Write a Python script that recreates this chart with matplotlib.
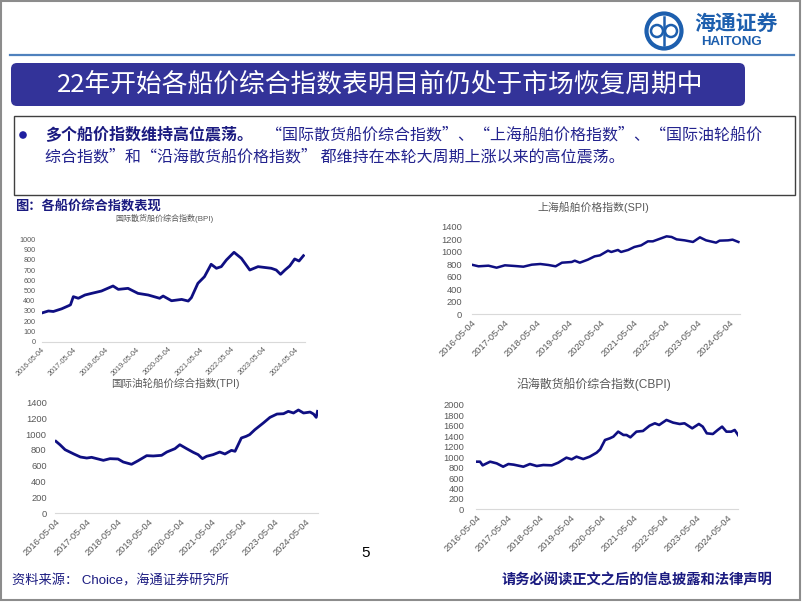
import numpy as np
import pandas as pd
import matplotlib.pyplot as plt
from matplotlib.patches import FancyBboxPatch, Rectangle, Circle

plt.rcParams['font.family'] = ['Liberation Sans', 'Noto Sans CJK SC']

# ---- data ----
tick_labels = ['2016-05-04', '2017-05-04', '2018-05-04', '2019-05-04', '2020-05-04',
               '2021-05-04', '2022-05-04', '2023-05-04', '2024-05-04']

bpi_dates = ['2016-05-04', '2016-07-20', '2016-09-15', '2016-12-20', '2017-03-10', '2017-04-01',
             '2017-05-04', '2017-07-01', '2017-09-15', '2017-12-01', '2018-03-25', '2018-08-05',
             '2018-10-05', '2019-01-25', '2019-05-20', '2019-09-15', '2020-01-25', '2020-03-05',
             '2020-06-10', '2020-10-05', '2020-12-20', '2021-01-25', '2021-04-10', '2021-06-25',
             '2021-09-10', '2021-11-10', '2022-01-05', '2022-03-05', '2022-06-01', '2022-08-25',
             '2022-11-30', '2023-03-05', '2023-08-05', '2023-10-01', '2023-11-20', '2024-01-10',
             '2024-03-05', '2024-05-01', '2024-06-20', '2024-08-10']
bpi_values = [280, 300, 295, 321, 351, 360, 440, 424, 456, 472, 495, 544, 511, 521, 472, 456,
              424, 446, 400, 413, 397, 430, 570, 635, 756, 717, 733, 798, 873, 814, 700, 733,
              717, 700, 658, 700, 740, 808, 788, 840]

spi_dates = ['2016-05-04', '2016-07-20', '2016-11-10', '2017-02-10', '2017-05-15', '2017-09-05',
             '2017-12-10', '2018-03-15', '2018-06-20', '2018-09-20', '2018-12-10', '2019-02-20',
             '2019-06-10', '2019-07-15', '2019-09-10', '2019-12-10', '2020-02-25', '2020-04-25',
             '2020-07-25', '2020-09-01', '2020-11-15', '2020-12-20', '2021-03-10', '2021-05-20',
             '2021-08-05', '2021-10-20', '2021-12-15', '2022-02-15', '2022-05-20', '2022-07-15',
             '2022-09-10', '2022-12-10', '2023-03-15', '2023-06-01', '2023-08-10', '2023-12-01',
             '2024-01-10', '2024-04-15', '2024-06-05', '2024-08-10']
spi_values = [793, 767, 777, 745, 783, 772, 761, 793, 804, 788, 767, 825, 836, 857, 825, 873,
              926, 942, 1017, 996, 1028, 996, 1028, 1076, 1102, 1166, 1166, 1198, 1246, 1236,
              1198, 1182, 1156, 1230, 1182, 1145, 1177, 1182, 1193, 1156]

tpi_dates = ['2016-05-15', '2016-07-01', '2016-08-30', '2016-12-10', '2017-02-25', '2017-05-10',
             '2017-07-05', '2017-09-05', '2017-11-20', '2018-02-05', '2018-05-10', '2018-07-10',
             '2018-10-15', '2019-01-01', '2019-04-10', '2019-06-25', '2019-10-01', '2019-12-01',
             '2020-03-05', '2020-05-01', '2020-07-20', '2020-10-05', '2020-12-01', '2021-01-20',
             '2021-03-10', '2021-05-25', '2021-08-10', '2021-10-10', '2021-12-25', '2022-02-05',
             '2022-04-20', '2022-06-15', '2022-07-25', '2022-09-25', '2023-01-01', '2023-03-20',
             '2023-06-10', '2023-08-25', '2023-10-20', '2023-12-20', '2024-02-15', '2024-04-15',
             '2024-07-01', '2024-08-10', '2024-09-10', '2024-09-25']
tpi_values = [908, 865, 802, 748, 710, 697, 706, 689, 668, 689, 685, 647, 618, 664, 727, 723,
              731, 773, 815, 865, 815, 769, 740, 689, 719, 740, 773, 748, 794, 782, 950, 971,
              992, 1055, 1139, 1210, 1252, 1256, 1286, 1265, 1303, 1265, 1277, 1252, 1210, 1286]

cbpi_dates = ['2016-05-04', '2016-06-20', '2016-07-20', '2016-10-15', '2016-12-30', '2017-03-15',
              '2017-05-15', '2017-07-15', '2017-11-05', '2018-01-20', '2018-04-10', '2018-06-25',
              '2018-10-01', '2018-12-15', '2019-03-20', '2019-05-20', '2019-07-15', '2019-10-01',
              '2019-12-15', '2020-03-05', '2020-04-15', '2020-06-10', '2020-08-05', '2020-09-15',
              '2020-11-10', '2021-01-10', '2021-02-15', '2021-04-01', '2021-06-10', '2021-08-25',
              '2021-11-10', '2022-01-10', '2022-03-01', '2022-05-25', '2022-08-10', '2022-10-25',
              '2022-12-20', '2023-03-20', '2023-06-05', '2023-07-20', '2023-09-05', '2023-11-15',
              '2024-01-10', '2024-03-01', '2024-04-20', '2024-06-15', '2024-07-25', '2024-09-10']
cbpi_values = [913, 913, 843, 913, 881, 817, 868, 856, 817, 868, 830, 849, 843, 894, 990, 958,
               1009, 964, 1009, 1086, 1150, 1329, 1361, 1393, 1489, 1425, 1425, 1380, 1489, 1502,
               1604, 1649, 1617, 1713, 1662, 1636, 1649, 1553, 1636, 1585, 1457, 1444, 1521, 1585,
               1489, 1489, 1521, 1406]

W, H = 802, 602
NAVY = '#1a1a80'
GRAY = '#595959'

fig = plt.figure(figsize=(W / 100, H / 100), dpi=100)

# page-level drawing layer in pixel coordinates
bg = fig.add_axes([0, 0, 1, 1], zorder=0)
bg.set_xlim(0, W)
bg.set_ylim(H, 0)
bg.axis('off')

bg.add_patch(Rectangle((1, 1), W - 3, H - 3, fill=False, ec='#8c8c8c', lw=1.5))
bg.plot([10, 794], [55, 55], color='#4f81bd', lw=1.6)

# logo
bg.add_patch(Circle((664, 31), 17.5, fill=False, ec='#1d5fae', lw=3))
bg.add_patch(Circle((657, 31), 6, fill=False, ec='#1d5fae', lw=1.8))
bg.add_patch(Circle((671, 31), 6, fill=False, ec='#1d5fae', lw=1.8))
bg.plot([664, 664], [17, 45], color='#1d5fae', lw=1.8)
bg.text(736, 23, '海通证券', fontsize=15, color='#1d5fae', fontweight='bold',
        ha='center', va='center', family=['Noto Sans CJK SC'])
bg.text(732, 42, 'HAITONG', fontsize=9.5, color='#1d5fae', fontweight='bold',
        ha='center', va='center')

# title banner
bg.add_patch(FancyBboxPatch((11, 63), 734, 43, boxstyle='round,pad=0,rounding_size=6',
                            fc='#333399', ec='none'))
bg.text(380, 85, '22年开始各船价综合指数表明目前仍处于市场恢复周期中', color='white',
        fontsize=18.5, ha='center', va='center', family=['Noto Sans CJK SC'])

# bullet box
bg.add_patch(Rectangle((14, 116), 781, 79, fill=False, ec='#404040', lw=1))
bg.add_patch(Circle((23, 135), 3.8, fc='#1f1fa0', ec='none'))
bg.text(45, 135, '多个船价指数维持高位震荡。', fontsize=11.5, fontweight='bold', color=NAVY,
        va='center', family=['Noto Sans CJK SC'])
bg.text(266, 135, '“国际散货船价综合指数”、“上海船舶价格指数”、“国际油轮船价', fontsize=11.5,
        color='#23238e', va='center', family=['Noto Sans CJK SC'])
bg.text(45, 157, '综合指数”和“沿海散货船价格指数” 都维持在本轮大周期上涨以来的高位震荡。',
        fontsize=11.5, color='#23238e', va='center', family=['Noto Sans CJK SC'])

bg.text(15, 207, '图：各船价综合指数表现', fontsize=9.5, fontweight='bold', color=NAVY,
        va='center', family=['Noto Sans CJK SC'])

bg.text(366, 553, '5', fontsize=11, color='black', ha='center', va='center')
bg.text(12, 581, '资料来源： Choice，海通证券研究所', fontsize=9.5, color=NAVY, va='center')
bg.text(772, 580, '请务必阅读正文之后的信息披露和法律声明', fontsize=10.3, fontweight='bold',
        color=NAVY, ha='right', va='center', family=['Noto Sans CJK SC'])


def index_chart(box, dates, values, ymax, ystep, title, title_xy, fs, title_fs, lw, ypad, x_end):
    x0, x1, ytop, ybot = box
    ax = fig.add_axes([x0 / W, 1 - ybot / H, (x1 - x0) / W, (ybot - ytop) / H], zorder=1)
    ax.patch.set_alpha(0)
    ax.plot(pd.to_datetime(dates), values, color='#0f0f82', lw=lw, solid_joinstyle='round')
    ax.set_xlim(pd.Timestamp('2016-05-04'), pd.Timestamp(x_end))
    ax.set_ylim(0, ymax)
    ax.set_yticks(np.arange(0, ymax + 1, ystep))
    ax.set_xticks(pd.to_datetime(tick_labels))
    ax.set_xticklabels(tick_labels, rotation=45, ha='right', rotation_mode='anchor')
    ax.tick_params(axis='both', length=0, labelsize=fs, colors=GRAY)
    ax.tick_params(axis='y', pad=ypad)
    ax.tick_params(axis='x', pad=3)
    for s in ['top', 'right', 'left']:
        ax.spines[s].set_visible(False)
    ax.spines['bottom'].set_color('#d9d9d9')
    bg.text(title_xy[0], title_xy[1], title, fontsize=title_fs, color=GRAY,
            ha='center', va='center')
    return ax


index_chart((41.7, 305, 239.3, 341.7), bpi_dates, bpi_values, 1000, 100,
            '国际散货船价综合指数(BPI)', (164, 218), 5.2, 5.8, 2.0, 4.5, '2024-08-28')
index_chart((471.7, 740, 226.7, 314.3), spi_dates, spi_values, 1400, 200,
            '上海船舶价格指数(SPI)', (593, 207), 6.7, 7.8, 1.8, 7, '2024-08-28')
index_chart((55, 318, 402.3, 513.3), tpi_dates, tpi_values, 1400, 200,
            '国际油轮船价综合指数(TPI)', (175, 383), 6.7, 7.6, 2.0, 6, '2024-10-01')
index_chart((476, 738.3, 405, 509.3), cbpi_dates, cbpi_values, 2000, 200,
            '沿海散货船价综合指数(CBPI)', (594, 384), 6.7, 8.6, 1.9, 8.5, '2024-09-05')

fig.savefig('out.png', dpi=100)
